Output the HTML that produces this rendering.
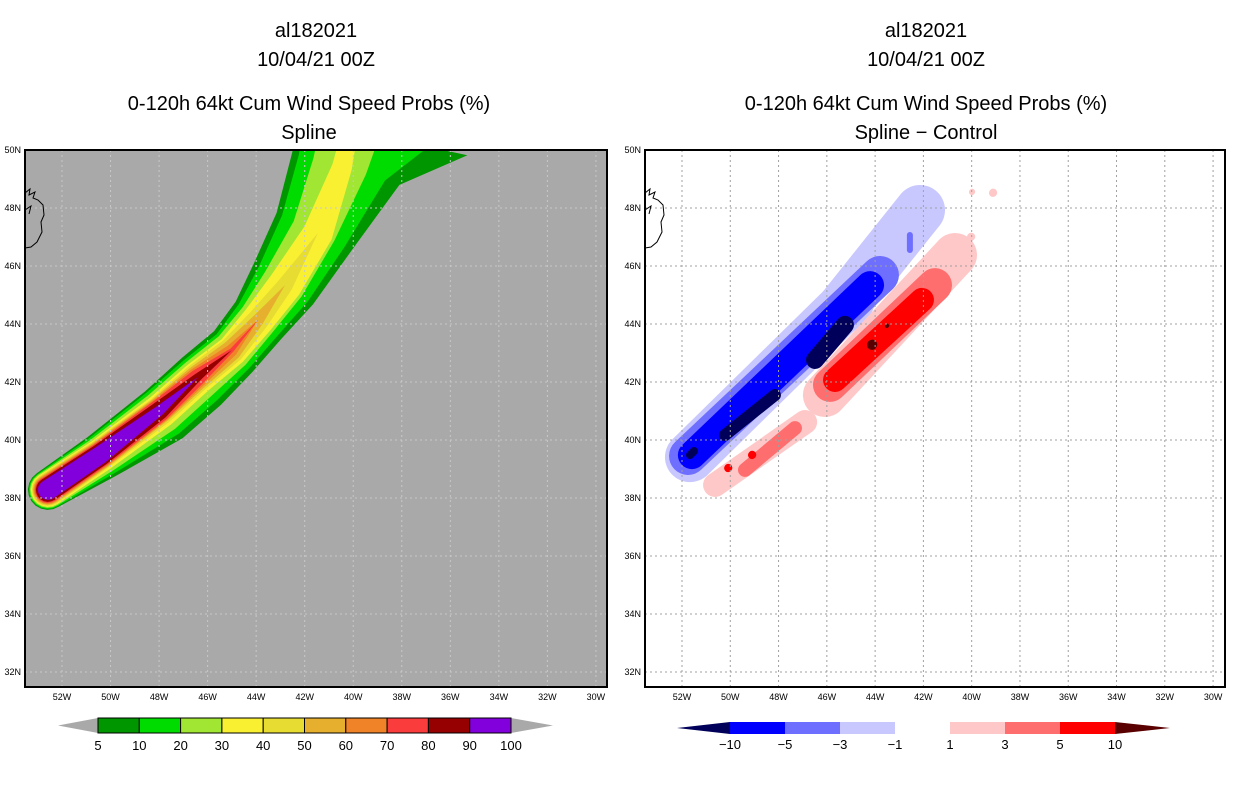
<!DOCTYPE html>
<html><head><meta charset="utf-8"><style>
body{margin:0;background:#fff;}
svg{display:block;font-family:"Liberation Sans",sans-serif;}
</style></head><body>
<svg id="root" width="1236" height="800" viewBox="0 0 1236 800">
<defs>
<clipPath id="clipL"><rect x="25" y="150" width="582" height="537"/></clipPath>
<clipPath id="clipR"><rect x="645" y="150" width="580" height="537"/></clipPath>
</defs>
<g font-size="20" text-anchor="middle" fill="#000">
<text x="316" y="37">al182021</text>
<text x="316" y="66">10/04/21 00Z</text>
<text x="309" y="110">0-120h 64kt Cum Wind Speed Probs (%)</text>
<text x="309" y="139">Spline</text>
<text x="926" y="37">al182021</text>
<text x="926" y="66">10/04/21 00Z</text>
<text x="926" y="110">0-120h 64kt Cum Wind Speed Probs (%)</text>
<text x="926" y="139">Spline − Control</text>
</g>
<rect x="25" y="150" width="582" height="537" fill="#a9a9a9"/>
<g id="leftMap" clip-path="url(#clipL)"></g>
<rect x="645" y="150" width="580" height="537" fill="#fff"/>
<g id="rightMap" clip-path="url(#clipR)"></g>
<rect x="25" y="150" width="582" height="537" fill="none" stroke="#000" stroke-width="2"/>
<rect x="645" y="150" width="580" height="537" fill="none" stroke="#000" stroke-width="2"/>
<g id="axes" font-size="9" fill="#000"></g>
<g id="cbars"></g>
</svg>
<script>
// ---- data ----
const lonTicks=[52,50,48,46,44,42,40,38,36,34,32,30];
const latTicks=[50,48,46,44,42,40,38,36,34,32];
const trackLon=[52.58,50.43,47.96,46.40,45.00,43.92,42.81,41.45,40.46,40.13];
const trackLat=[38.28,39.48,41.03,42.17,43.10,44.14,45.34,47.14,49.41,50.69];
const probLevels=[5,10,20,30,40,50,60,70,80,90];
const probColors=["#009600","#00dc00","#a0e632","#faf032","#e6dc32","#e6af2d","#f08228","#fa3c3c","#960000","#8200dc"];
const leftWidth=[[20,22,24,25,26,29,38,46,52,56],[19,20,22,22,22,25,32,40,45,48],[18,18,19,19,19,20,24,27,30,30],[17,16,16,16,15,16,17,15,10,8],[16,15,14,14,13,11,8,0],[15,14,13,12,10,6,0],[14,13,12,10,6,0],[13,12,11,8,2,0],[12,11,9,4,0],[10,9,5,0]];
const rightWidth=[[20,26,36,36,30,30,34,38,60,120],[19,23,30,30,25,25,28,30,45,80],[18,20,24,23,20,19,20,18,25,30],[17,17,18,17,16,16,17,15,10,8],[16,15,15,14,13,11,8,0],[15,14,13,12,10,6,0],[14,13,12,10,6,0],[13,12,11,8,2,0],[12,11,9,4,0],[10,9,5,0]];
// difference field blobs (capsules)
const diffLevel=[-1,-1,-3,-5,-10,-10,-10,-3, 1,1,3,3,5,5,5,10,10,1,1,1];
const diffLon1=[51.67,45.45,51.75,51.59,51.67,50.22,46.49,42.56, 50.63,46.08,49.39,45.87,50.09,49.10,45.66,44.13,43.51,39.99,39.12,40.03];
const diffLat1=[39.41,44.48,39.45,39.48,39.48,40.17,42.76,47.07, 38.45,41.55,38.97,41.90,39.03,39.48,42.07,43.28,43.93,48.55,48.52,47.00];
const diffLon2=[45.04,42.14,43.80,44.21,51.50,48.15,45.25,42.56, 46.90,40.69,47.32,41.52,50.08,49.09,42.06,44.12,43.50,39.98,39.11,40.02];
const diffLat2=[44.83,47.93,45.69,45.34,39.62,41.55,43.97,46.55, 40.62,46.38,40.41,45.34,39.04,39.49,44.83,43.29,43.94,48.56,48.53,47.01];
const diffWidth=[50,50,38,28,8,12,18,6, 24,44,14,34,8,8,24,10,4,6,8,8];
const diffBounds=[-10,-5,-3,-1,1,3,5,10];
const diffColors={"-10":"#00005a","-5":"#0000ff","-3":"#6e6eff","-1":"#c8c8ff","1":"#ffc8c8","3":"#ff6e6e","5":"#ff0000","10":"#5a0000"};
const diffBarColors=["#0000ff","#6e6eff","#c8c8ff","#ffffff","#ffc8c8","#ff6e6e","#ff0000"];

const NS="http://www.w3.org/2000/svg";
function el(t,a,p){const e=document.createElementNS(NS,t);for(const k in a)e.setAttribute(k,a[k]);p.appendChild(e);return e;}
function xL(lon){return 62+(52-lon)*24.27;}
function xR(lon){return 682+(52-lon)*24.14;}
function yS(lat){return 150+(50-lat)*29;}

// ---- left swath ----
const LM=document.getElementById('leftMap');
const px=trackLon.map(xL), py=trackLat.map(yS);
function normal(i){const a=Math.max(0,i-1),b=Math.min(px.length-1,i+1);let dx=px[b]-px[a],dy=py[b]-py[a];const l=Math.hypot(dx,dy);return [dy/l,-dx/l];}
probLevels.forEach((lv,k)=>{
  const L=leftWidth[k],R=rightWidth[k];const n=L.length;
  const left=[],right=[];
  for(let i=0;i<n;i++){const [nx,ny]=normal(i);left.push([px[i]+nx*L[i],py[i]+ny*L[i]]);right.push([px[i]-nx*R[i],py[i]-ny*R[i]]);}
  const d=[px[0]-px[1],py[0]-py[1]];const dl=Math.hypot(d[0],d[1]);
  const [nx0,ny0]=normal(0);
  const r0=L[0];
  const tail=[];
  for(let s=1;s<10;s++){const ang=Math.PI*s/10;const c=Math.cos(ang),sn=Math.sin(ang);
    tail.push([px[0]-nx0*r0*c+d[0]/dl*r0*sn, py[0]-ny0*r0*c+d[1]/dl*r0*sn]);}
  const pts=[...left,...right.reverse(),...tail];
  const p=el('polygon',{points:pts.map(q=>q[0].toFixed(1)+','+q[1].toFixed(1)).join(' '),fill:probColors[k],'stroke-linejoin':'round'},LM);
  
  
});

// ---- right diff ----
const RM=document.getElementById('rightMap');
const order=[-1,-3,-5,-10,1,3,5,10];
order.forEach(lv=>{
  diffLevel.forEach((d,i)=>{
    if(d!==lv)return;
    const ln=el('line',{x1:xR(diffLon1[i]),y1:yS(diffLat1[i]),x2:xR(diffLon2[i]),y2:yS(diffLat2[i]),stroke:diffColors[lv],'stroke-width':diffWidth[i],'stroke-linecap':'round'},RM);
    
    
  });
});

// ---- grids, coast, ticks ----
const AX=document.getElementById('axes');
[[LM,xL,'#c8c8c8'],[RM,xR,'#a0a0a0']].forEach(([g,xf,c])=>{
  lonTicks.forEach(l=>{const e=el('line',{x1:xf(l),x2:xf(l),y1:150,y2:687,stroke:c,'stroke-dasharray':'2,3','stroke-width':1},g);});
  latTicks.forEach(l=>{const x0=g===LM?25:645;const e=el('line',{x1:x0,x2:x0+582,y1:yS(l),y2:yS(l),stroke:c,'stroke-dasharray':'2,3','stroke-width':1},g);});
  const off=g===LM?25:645;
  const cst=el('path',{d:`M${off} 193 L${off+5} 189 L${off+4} 195 L${off+10} 192 L${off+8} 198 L${off+13} 200 L${off+18} 205 L${off+19} 215 L${off+16} 222 L${off+17} 232 L${off+12} 242 L${off+6} 247 L${off} 248 M${off} 210 L${off+6} 206 L${off+4} 214`,fill:'none',stroke:'#000','stroke-width':1},g);
  
  
});
[[xL,21],[xR,641]].forEach(([xf,yx])=>{
  lonTicks.forEach(l=>{const t=el('text',{x:xf(l),y:700,'text-anchor':'middle'},AX);t.textContent=l+'W';});
  latTicks.forEach(l=>{const t=el('text',{x:yx,y:yS(l)+3,'text-anchor':'end'},AX);t.textContent=l+'N';});
});

// ---- colorbars ----
const CB=document.getElementById('cbars');
(function(){
  const x0=98,w=41.3,y0=718,h=15;
  const a=el('polygon',{points:`58,${y0+h/2} ${x0},${y0} ${x0},${y0+h}`,fill:'#a9a9a9'},CB);
  const xe=x0+w*10;
  const b=el('polygon',{points:`${xe+42},${y0+h/2} ${xe},${y0} ${xe},${y0+h}`,fill:'#a9a9a9'},CB);
  probColors.forEach((c,i)=>{const r=el('rect',{x:x0+i*w,y:y0,width:w,height:h,fill:c,stroke:'#000','stroke-width':1},CB);});
  [...probLevels,100].forEach((v,i)=>{const t=el('text',{x:x0+i*w,y:y0+h+17,'text-anchor':'middle','font-size':13},CB);t.textContent=v;});
})();
(function(){
  const x0=730,w=55,y0=722,h=12;
  const a=el('polygon',{points:`677,${y0+h/2} ${x0},${y0} ${x0},${y0+h}`,fill:diffColors["-10"]},CB);
  const xe=x0+w*7;
  const b=el('polygon',{points:`${xe+55},${y0+h/2} ${xe},${y0} ${xe},${y0+h}`,fill:diffColors["10"]},CB);
  diffBarColors.forEach((c,i)=>{const r=el('rect',{x:x0+i*w,y:y0,width:w,height:h,fill:c},CB);});
  diffBounds.forEach((v,i)=>{const t=el('text',{x:x0+i*w,y:y0+h+15,'text-anchor':'middle','font-size':13},CB);t.textContent=v<0?'−'+(-v):v;});
})();
</script>
</body></html>
